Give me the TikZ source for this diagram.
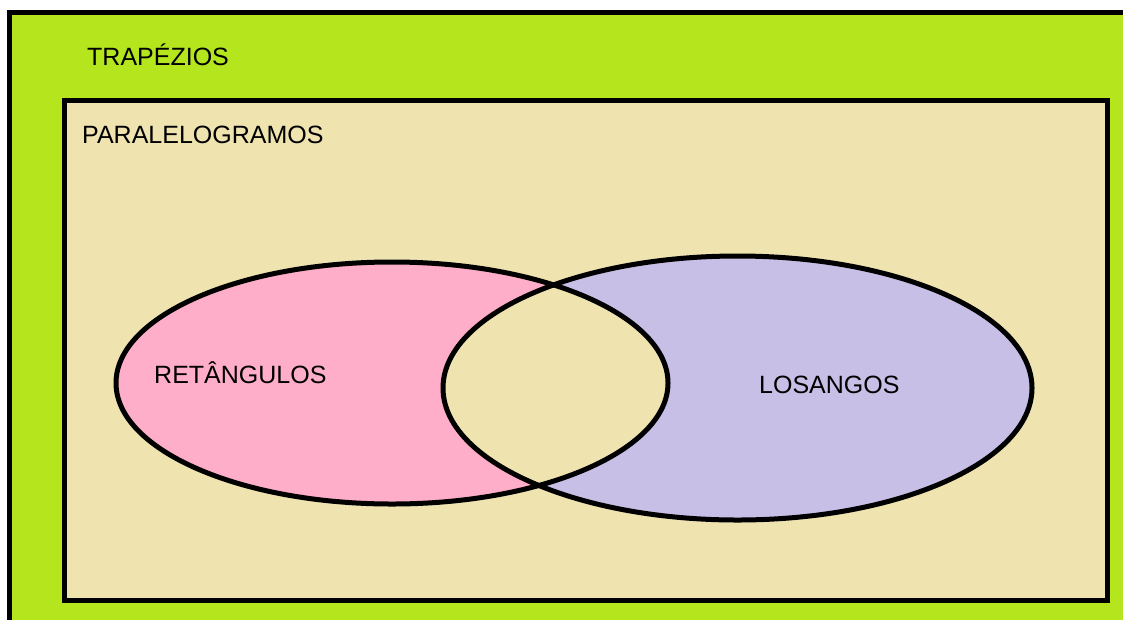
\documentclass[tikz,border=0pt]{standalone}
\usepackage{fontspec}
\setmainfont{Liberation Sans}
\definecolor{lime}{HTML}{B5E61D}
\definecolor{tan}{HTML}{EFE4B0}
\definecolor{rose}{HTML}{FFAEC9}
\definecolor{lavender}{HTML}{C8BFE7}
\begin{document}
\begin{tikzpicture}[x=1pt,y=-1pt,
  outline/.style={draw=black,line width=5pt},
  txt/.style={anchor=base west,inner sep=0pt,font=\fontsize{25}{30}\selectfont,text=black}]
\useasboundingbox (0,0) rectangle (1123,619);
\fill[white] (-5,-5) rectangle (1135,630);
\fill[lime] (9,12) rectangle (1135,630);
\draw[line width=5pt] (9,630) -- (9,12) -- (1135,12);
\fill[tan,outline] (64,100.5) rectangle (1107,600.5);
% ellipses
\fill[rose] (392,383) ellipse [x radius=276, y radius=121];
\fill[lavender] (737.5,388) ellipse [x radius=294.5, y radius=132];
\begin{scope}
\clip (392,383) ellipse [x radius=276, y radius=121];
\fill[tan] (737.5,388) ellipse [x radius=294.5, y radius=132];
\end{scope}
\draw[outline] (392,383) ellipse [x radius=276, y radius=121];
\draw[outline] (737.5,388) ellipse [x radius=294.5, y radius=132];
% labels
\node[txt] (trap) at (87,65) {TRAPÉZIOS};
\node[txt] (para) at (82,143) {PARALELOGRAMOS};
\node[txt] (ret) at (154,383) {RETÂNGULOS};
\node[txt] (los) at (759,393) {LOSANGOS};
\end{tikzpicture}
\end{document}
